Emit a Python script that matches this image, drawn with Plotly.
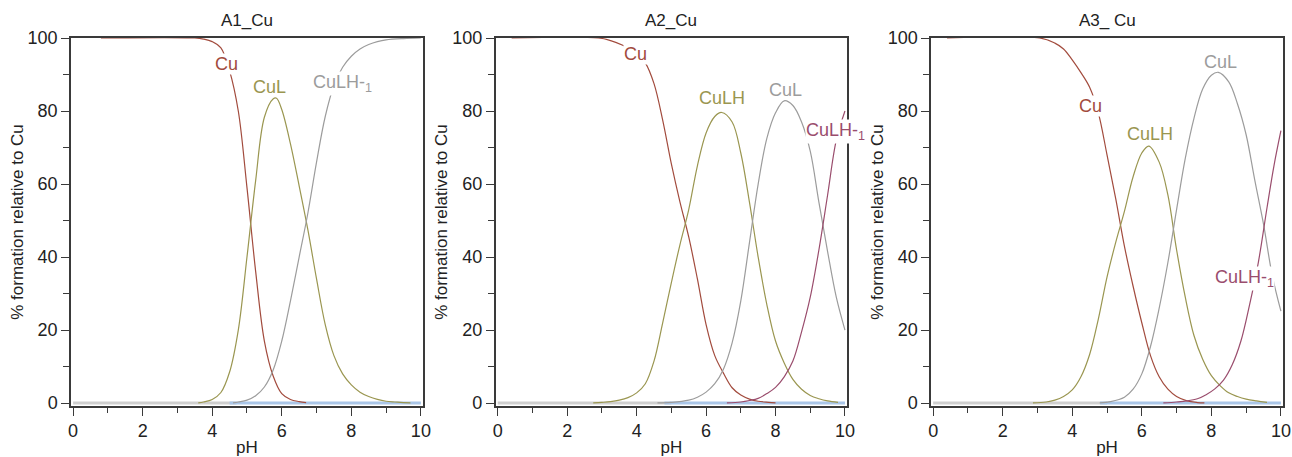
import plotly.graph_objects as go

# ---------------- data ----------------
# Panel A1_Cu
A1_CU_PH = [0.8, 3.5, 3.75, 4.0, 4.25, 4.5, 4.75, 5.0, 5.25, 5.5, 5.75, 6.0, 6.25, 6.5, 6.7]
A1_CU = [100, 100, 99.7, 99.0, 97.3, 91, 80, 59, 36, 17, 7.5, 2.6, 1.0, 0.4, 0.1]
A1_CUL_PH = [3.6, 3.75, 4.0, 4.25, 4.5, 4.75, 5.0, 5.25, 5.5, 5.75, 5.85, 6.0, 6.25, 6.5, 6.75,
             7.0, 7.25, 7.5, 7.75, 8.0, 8.25, 8.5, 8.75, 9.0, 9.25, 9.5, 9.7]
A1_CUL = [0.05, 0.3, 1.0, 2.9, 8.5, 20, 40, 61, 78.3, 83.3, 83.5, 80.4, 71, 59.5, 47.5,
          34, 21.5, 13, 8, 5, 3, 1.8, 1.0, 0.5, 0.3, 0.15, 0.05]
A1_CULH1_PH = [4.6, 4.75, 5.0, 5.25, 5.5, 5.75, 6.0, 6.25, 6.5, 6.75, 7.0, 7.25, 7.5, 7.75,
               8.0, 8.25, 8.5, 8.75, 9.0, 9.5, 10.0]
A1_CULH1 = [0.05, 0.3, 0.8, 2.0, 4.4, 9.0, 17, 28, 40, 52, 66, 78.5, 87, 92,
            95, 97, 98.2, 99, 99.5, 99.85, 100]

# Panel A2_Cu
A2_CU_PH = [0.4, 2.9, 3.25, 3.6, 4.0, 4.25, 4.5, 4.75, 5.0, 5.25, 5.5, 5.75, 6.0, 6.25,
            6.5, 6.75, 7.0, 7.25, 7.5, 7.8, 8.0]
A2_CU = [100, 100, 99.3, 98, 95.8, 93.2, 87.5, 77.5, 65.5, 55, 45.5, 34, 21.5, 13,
         8.2, 4.2, 2.2, 1.1, 0.5, 0.2, 0.05]
A2_CULH_PH = [2.75, 3.0, 3.25, 3.5, 3.75, 4.0, 4.25, 4.5, 4.75, 5.0, 5.25, 5.5, 5.75, 6.0,
              6.25, 6.45, 6.75, 7.0, 7.25, 7.5, 7.75, 8.0, 8.25, 8.5, 8.75, 9.0, 9.25, 9.5, 9.8]
A2_CULH = [0.05, 0.2, 0.4, 0.8, 1.5, 2.8, 5.3, 11.5, 22, 33, 43.5, 53, 65, 74,
           78.5, 79.6, 77, 68.5, 55, 40, 27, 17, 11, 6.5, 3.8, 2.1, 1.2, 0.6, 0.2]
A2_CUL_PH = [4.6, 5.0, 5.5, 5.75, 6.0, 6.25, 6.5, 6.75, 7.0, 7.25, 7.5, 7.75, 8.0, 8.25,
             8.5, 8.75, 9.0, 9.25, 9.5, 9.75, 10.0]
A2_CUL = [0.05, 0.2, 0.8, 1.6, 3.0, 5.3, 9.3, 16.5, 28, 44, 60, 72.5, 79.5, 82.8,
          81.5, 77, 69, 55, 41.5, 29, 20]
A2_CULH1_PH = [6.6, 7.0, 7.25, 7.5, 7.75, 8.0, 8.25, 8.5, 8.75, 9.0, 9.25, 9.5, 9.75, 10.0]
A2_CULH1 = [0.05, 0.3, 0.7, 1.3, 2.6, 4.3, 7.2, 11.5, 19.5, 29, 42, 57, 72, 80]

# Panel A3_ Cu
A3_CU_PH = [0.4, 3.06, 3.5, 3.75, 4.0, 4.25, 4.5, 4.75, 5.0, 5.25, 5.5, 5.75, 6.0, 6.25,
            6.5, 6.75, 7.0, 7.3, 7.6, 7.8]
A3_CU = [100, 100, 98.6, 97, 94, 90.5, 86.5, 79.5, 68, 56, 43, 32, 22, 13,
         7.2, 3.8, 1.8, 0.6, 0.15, 0.05]
A3_CULH_PH = [2.87, 3.25, 3.5, 3.75, 4.0, 4.25, 4.5, 4.75, 5.0, 5.25, 5.5, 5.75, 6.0, 6.2,
              6.5, 6.75, 7.0, 7.25, 7.5, 7.75, 8.0, 8.25, 8.5, 8.75, 9.0, 9.3, 9.6]
A3_CULH = [0.05, 0.3, 0.8, 1.8, 3.6, 7.2, 13.3, 23, 34.5, 44, 52.5, 62, 68.5, 70.4,
           66, 57, 42, 29, 18.5, 12, 7.5, 4.8, 2.8, 1.8, 1.1, 0.6, 0.2]
A3_CUL_PH = [4.79, 5.1, 5.5, 5.75, 6.0, 6.25, 6.5, 6.75, 7.0, 7.25, 7.5, 7.75, 8.0, 8.2,
             8.5, 8.75, 9.0, 9.25, 9.5, 9.75, 10.0]
A3_CUL = [0.05, 0.4, 1.6, 3.8, 8.0, 15.5, 26, 38.5, 53, 67, 78, 86, 89.8, 90.6,
          88, 82, 73.5, 61, 49, 35, 25.2]
A3_CULH1_PH = [6.62, 7.0, 7.3, 7.6, 7.85, 8.1, 8.35, 8.6, 8.85, 9.1, 9.35, 9.6, 9.8, 10.0]
A3_CULH1 = [0.05, 0.3, 0.6, 1.2, 2.3, 3.9, 6.3, 10.5, 17, 27, 38.5, 53.5, 65, 74.6]

# near-zero minor species drawn along the baseline
BASE_GRAY_PH = [[0.0, 4.7], [0.0, 5.0], [0.0, 5.0]]
BASE_BLUE_PH = [[4.5, 10.0], [4.8, 10.0], [4.8, 10.0]]
BASE_V = [0, 0]

TITLES = ["A1_Cu", "A2_Cu", "A3_ Cu"]
X_TICKS = [0, 2, 4, 6, 8, 10]
X_MINOR = [1, 3, 5, 7, 9]
Y_TICKS = [0, 20, 40, 60, 80, 100]
Y_MINOR = [10, 30, 50, 70, 90]

# ---------------- styling ----------------
FONT = "Liberation Sans, Arial, sans-serif"
FS = 18
C_RED = "#a24b3d"
C_OLIVE = "#9a9650"
C_GRAY = "#9c9c9c"
C_PURPLE = "#9a4d6d"
AX = "#3a3a3a"
TXT = "#222222"

panels = [
    [(A1_CU_PH, A1_CU, C_RED), (A1_CUL_PH, A1_CUL, C_OLIVE), (A1_CULH1_PH, A1_CULH1, C_GRAY)],
    [(A2_CU_PH, A2_CU, C_RED), (A2_CULH_PH, A2_CULH, C_OLIVE), (A2_CUL_PH, A2_CUL, C_GRAY),
     (A2_CULH1_PH, A2_CULH1, C_PURPLE)],
    [(A3_CU_PH, A3_CU, C_RED), (A3_CULH_PH, A3_CULH, C_OLIVE), (A3_CUL_PH, A3_CUL, C_GRAY),
     (A3_CULH1_PH, A3_CULH1, C_PURPLE)],
]

# label: (text, pH, value, colour, white background)
SUB = "CuLH-<sub>1</sub>"
labels = [
    [("Cu", 4.40, 92.9, C_RED, True), ("CuL", 5.66, 86.5, C_OLIVE, False),
     (SUB, 7.74, 87.6, C_GRAY, True)],
    [("Cu", 3.98, 95.6, C_RED, True), ("CuLH", 6.45, 83.6, C_OLIVE, False),
     ("CuL", 8.30, 85.8, C_GRAY, False), (SUB, 9.72, 74.5, C_PURPLE, True)],
    [("Cu", 4.53, 81.4, C_RED, True), ("CuLH", 6.23, 73.7, C_OLIVE, False),
     ("CuL", 8.25, 93.3, C_GRAY, False), (SUB, 8.94, 34.2, C_PURPLE, True)],
]

domains = [[0.0, 0.2904], [0.3504, 0.6403], [0.7096, 1.0]]

fig = go.Figure()
annotations = []
for i in range(3):
    xa = "x" if i == 0 else f"x{i+1}"
    ya = "y" if i == 0 else f"y{i+1}"
    fig.add_trace(go.Scatter(x=BASE_GRAY_PH[i], y=BASE_V, mode="lines",
                             line=dict(color="#cfcfcf", width=3), xaxis=xa, yaxis=ya,
                             hoverinfo="skip"))
    fig.add_trace(go.Scatter(x=BASE_BLUE_PH[i], y=BASE_V, mode="lines",
                             line=dict(color="#aac6e8", width=3), xaxis=xa, yaxis=ya,
                             hoverinfo="skip"))
    for px, pv, col in panels[i]:
        fig.add_trace(go.Scatter(x=px, y=pv, mode="lines", line_shape="spline",
                                 line=dict(color=col, width=1.2), xaxis=xa, yaxis=ya))
    for txt, lx, ly, col, bg in labels[i]:
        annotations.append(dict(text=txt, x=lx, y=ly, xref=xa, yref=ya, showarrow=False,
                                font=dict(family=FONT, size=FS, color=col),
                                bgcolor="white" if bg else None, borderpad=0))
    annotations.append(dict(text=TITLES[i], x=sum(domains[i]) / 2, y=1.0475, xref="paper",
                            yref="paper", showarrow=False, xanchor="center", yanchor="middle",
                            font=dict(family=FONT, size=FS - 1, color=TXT)))

    xkey = "xaxis" if i == 0 else f"xaxis{i+1}"
    ykey = "yaxis" if i == 0 else f"yaxis{i+1}"
    fig.update_layout(**{
        xkey: dict(domain=domains[i], anchor=ya, range=[-0.06, 10.06], tickvals=X_TICKS,
                   ticks="outside", ticklen=8, tickwidth=1.2, tickcolor=AX,
                   showline=True, linecolor=AX, linewidth=1.5, mirror=True,
                   showgrid=False, zeroline=False, automargin=False,
                   minor=dict(tickvals=X_MINOR, ticks="outside", ticklen=5,
                              tickwidth=1.2, tickcolor=AX),
                   tickfont=dict(family=FONT, size=FS, color=TXT),
                   title=dict(text="pH", standoff=10,
                              font=dict(family=FONT, size=FS - 1, color=TXT))),
        ykey: dict(domain=[0, 1], anchor=xa, range=[-0.8, 100], tickvals=Y_TICKS,
                   ticks="outside", ticklen=8, tickwidth=1.2, tickcolor=AX,
                   showline=True, linecolor=AX, linewidth=1.5, mirror=True,
                   showgrid=False, zeroline=False, automargin=False,
                   minor=dict(tickvals=Y_MINOR, ticks="outside", ticklen=6,
                              tickwidth=1.2, tickcolor=AX),
                   tickfont=dict(family=FONT, size=FS, color=TXT),
                   title=dict(text="% formation relative to Cu", standoff=0,
                              font=dict(family=FONT, size=FS - 1, color=TXT))),
    })

fig.update_layout(width=1292, height=457, margin=dict(l=71, r=9, t=38, b=51),
                  paper_bgcolor="white", plot_bgcolor="white", showlegend=False,
                  annotations=annotations, font=dict(family=FONT))
fig.write_html("out.html")
